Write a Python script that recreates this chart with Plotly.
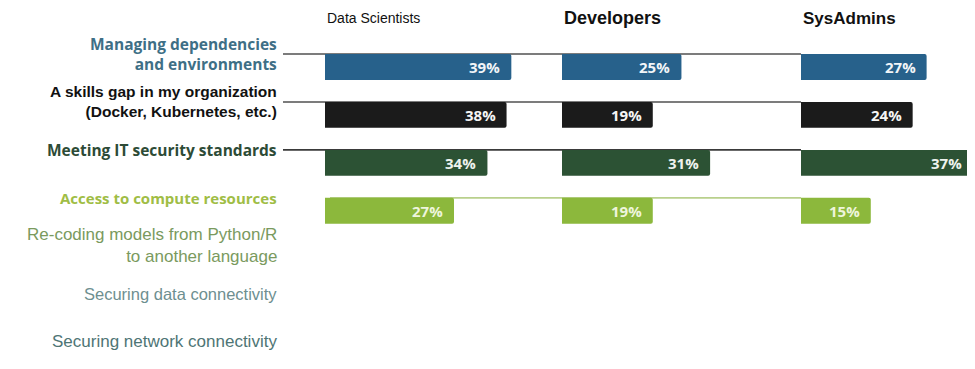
import plotly.graph_objects as go
from plotly.subplots import make_subplots

categories = [
    "Managing dependencies<br>and environments",
    "A skills gap in my organization<br>(Docker, Kubernetes, etc.)",
    "Meeting IT security standards",
    "Access to compute resources",
    "Re-coding models from Python/R<br>to another language",
    "Securing data connectivity",
    "Securing network connectivity",
]
groups = ["Data Scientists", "Developers", "SysAdmins"]
data_scientists = [39, 38, 34, 27, None, None, None]
developers = [25, 19, 31, 19, None, None, None]
sysadmins = [27, 24, 37, 15, None, None, None]

bar_colors = ["#27618b", "#1b1b1b", "#2c5234", "#8cb83c", "#8cb83c", "#6e8f90", "#4e7575"]
text_colors = ["#f2f5f8", "#f5f5f5", "#eef2ee", "#eef5dc", "white", "white", "white"]
label_colors = ["#3e6f86", "#111111", "#2d4b36", "#9fbd45", "#7a9a5e", "#6e8f90", "#4e7575"]
label_fonts = ["Open Sans", "Liberation Sans", "Open Sans", "Open Sans",
               "Liberation Sans", "Liberation Sans", "Liberation Sans"]
label_weights = ["bold", "bold", "bold", "bold", "normal", "normal", "normal"]
label_sizes = [15.5, 15.5, 15.5, 15, 17, 16.5, 17]
line_colors = ["#505050", "#505050", "#3a3a3a", "#b9d08c", None, None, None]

OFF = 8.0          # page body margin of the html output
W = 975.0 - OFF
H = 369.0 - OFF


def px(p):
    return (p - OFF) / W


fig = make_subplots(rows=1, cols=3, shared_yaxes=True, horizontal_spacing=0.0)
series = [data_scientists, developers, sysadmins]
ypos = list(range(len(categories)))
for c, vals in enumerate(series):
    fig.add_trace(go.Bar(
        x=vals, y=ypos, orientation="h",
        marker=dict(color=bar_colors, line=dict(width=0)),
        width=0.54,
        cliponaxis=False, showlegend=False, hoverinfo="skip",
    ), row=1, col=c + 1)
    xr = "x" if c == 0 else f"x{c+1}"
    for i, v in enumerate(vals):
        if v is None:
            continue
        fig.add_annotation(xref=xr, yref="y", x=v, y=i, xanchor="right", xshift=-9,
                           showarrow=False, text=f"{v}%",
                           font=dict(family="Open Sans", size=15, color=text_colors[i],
                                     weight="bold"))

doms = [(px(325), px(540)), (px(562), px(777)), (px(801), 1.0)]
ranges = [[0, 45], [0, 45], [0, 37.4]]
for i, dom in enumerate(doms):
    key = "xaxis" if i == 0 else f"xaxis{i+1}"
    fig.layout[key].update(domain=list(dom), range=ranges[i], visible=False)
for i in range(3):
    key = "yaxis" if i == 0 else f"yaxis{i+1}"
    fig.layout[key].update(range=[6.3, -0.5], visible=False)

TOP = -0.27  # top edge of a bar relative to its row centre
# leader lines
for i, lc in enumerate(line_colors):
    if lc is None:
        continue
    x0 = px(283) if i < 3 else px(330)
    fig.add_shape(type="line", xref="paper", yref="y", x0=x0, x1=px(801),
                  y0=i + TOP, y1=i + TOP, line=dict(color=lc, width=1.6), layer="below")

# row labels
for i, cat in enumerate(categories):
    fig.add_annotation(xref="paper", yref="y", x=px(279), y=i + TOP,
                       xanchor="right", yanchor="middle", align="right",
                       showarrow=False, text=cat,
                       font=dict(family=label_fonts[i], size=label_sizes[i],
                                 color=label_colors[i], weight=label_weights[i]))

# column headers
head_w = ["normal", "bold", "bold"]
head_s = [14, 18, 17]
for i, g in enumerate(groups):
    fig.add_annotation(xref="paper", yref="paper", x=doms[i][0], y=1, yshift=25,
                       xanchor="left", yanchor="middle", showarrow=False, text=g,
                       font=dict(family="Liberation Sans", size=head_s[i], color="#111111",
                                 weight=head_w[i]))

fig.update_layout(
    width=W, height=H, barcornerradius=2,
    margin=dict(l=0, r=0, t=35, b=0),
    plot_bgcolor="white", paper_bgcolor="white",
)
fig.write_html("out.html")
